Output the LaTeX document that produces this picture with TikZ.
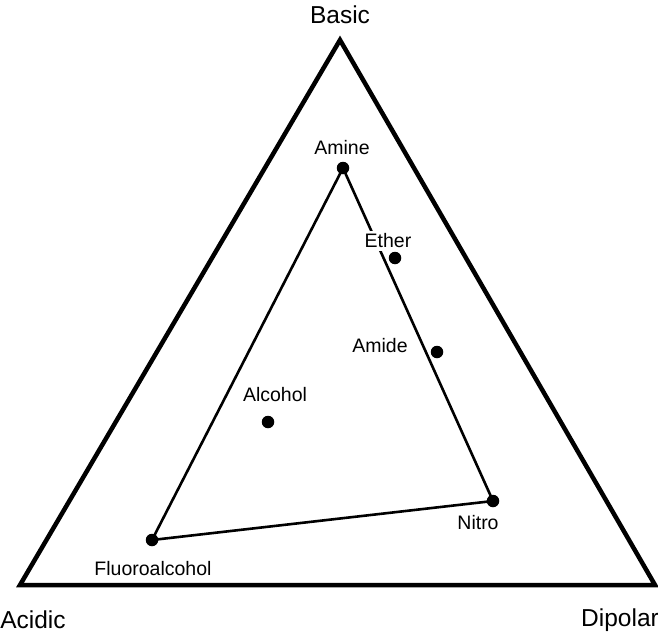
\documentclass[tikz,border=0pt]{standalone}
\usepackage{fontspec}
\setmainfont{Liberation Sans}
\begin{document}
\begin{tikzpicture}[x=1pt,y=-1pt,
  dot/.style={circle,fill=black,inner sep=0pt,minimum size=12.5pt},
  big/.style={font=\fontsize{24.5}{28}\selectfont,inner sep=0pt},
  small/.style={font=\fontsize{19.5}{22}\selectfont,inner sep=0pt},
  outer/.style={line width=4.5pt,line join=miter},
  inner/.style={line width=2.6pt}]
\useasboundingbox (0,0) rectangle (658,634);
% outer triangle
\coordinate (B) at (340,40);
\coordinate (A) at (20,585);
\coordinate (D) at (655,585);
\draw[outer] (B) -- (D) -- (A) -- cycle;
\node[big] (lb) at (340,15) {Basic};
\node[big] (la) at (33,620) {Acidic};
\node[big] (ld) at (620,620) {Dipolar};
% points
\node[dot] (amine) at (343,168) {};
\node[dot] (ether) at (395,258) {};
\node[dot] (amide) at (437,352) {};
\node[dot] (alcohol) at (268,422) {};
\node[dot] (nitro) at (493,501) {};
\node[dot] (fluoro) at (152,540) {};
% inner triangle
\draw[inner] (amine.center) -- (nitro.center) -- (fluoro.center) -- cycle;
% labels
\node[small] (tamine) at (342,148) {Amine};
\node[small,fill=white,inner sep=3pt] (tether) at (388,241) {Ether};
\node[small] (tamide) at (380,346) {Amide};
\node[small] (talcohol) at (275,395) {Alcohol};
\node[small] (tnitro) at (478,523) {Nitro};
\node[small] (tfluoro) at (153,569) {Fluoroalcohol};
\end{tikzpicture}
\end{document}
